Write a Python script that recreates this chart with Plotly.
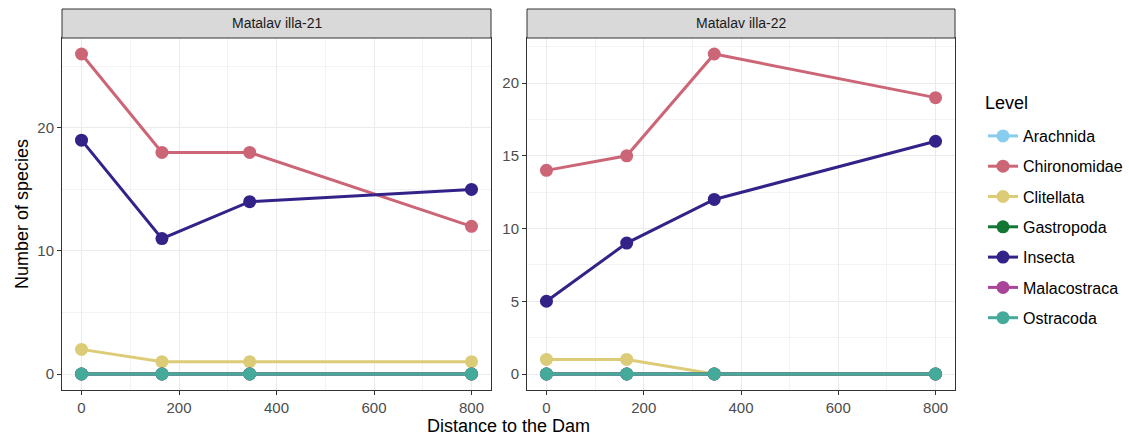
import plotly.graph_objects as go

# Distance of each sampling site from the dam (m)
distance = [0, 165, 345, 800]

levels = ["Arachnida", "Chironomidae", "Clitellata", "Gastropoda",
          "Insecta", "Malacostraca", "Ostracoda"]
colors = ["#88CCEE", "#CC6677", "#DDCC77", "#117733",
          "#332288", "#AA4499", "#44AA99"]

# Species richness per taxonomic level, Matalavilla-21
m21_arachnida = [0, 0, 0, 0]
m21_chironomidae = [26, 18, 18, 12]
m21_clitellata = [2, 1, 1, 1]
m21_gastropoda = [0, 0, 0, 0]
m21_insecta = [19, 11, 14, 15]
m21_malacostraca = [0, 0, 0, 0]
m21_ostracoda = [0, 0, 0, 0]

# Species richness per taxonomic level, Matalavilla-22
m22_arachnida = [0, 0, 0, 0]
m22_chironomidae = [14, 15, 22, 19]
m22_clitellata = [1, 1, 0, 0]
m22_gastropoda = [0, 0, 0, 0]
m22_insecta = [5, 9, 12, 16]
m22_malacostraca = [0, 0, 0, 0]
m22_ostracoda = [0, 0, 0, 0]

panels = [
    ("Matalav illa-21", [m21_arachnida, m21_chironomidae, m21_clitellata, m21_gastropoda,
                         m21_insecta, m21_malacostraca, m21_ostracoda]),
    ("Matalav illa-22", [m22_arachnida, m22_chironomidae, m22_clitellata, m22_gastropoda,
                         m22_insecta, m22_malacostraca, m22_ostracoda]),
]

W, H = 1129, 437
FONT = "Liberation Sans, Arial, sans-serif"

def px_x(p):
    return p / W

def px_y(p):
    return 1 - p / H

x_domains = [(px_x(62), px_x(491)), (px_x(527), px_x(955))]
y_domain = (px_y(390), px_y(38))
strip_top = px_y(9)

fig = go.Figure()

for i, (title, series) in enumerate(panels):
    xa = "x" if i == 0 else "x2"
    ya = "y" if i == 0 else "y2"
    for lvl, col, vals in zip(levels, colors, series):
        fig.add_trace(go.Scatter(
            x=distance, y=vals, mode="lines+markers", name=lvl,
            legendgroup=lvl, showlegend=(i == 0),
            line=dict(color=col, width=3),
            marker=dict(color=col, size=13),
            xaxis=xa, yaxis=ya,
        ))

axis_common = dict(
    showline=True, linecolor="#333333", linewidth=1, mirror=True,
    ticks="outside", ticklen=4, tickcolor="#333333", tickwidth=1,
    tickfont=dict(family=FONT, size=15, color="#4D4D4D"),
    showgrid=True, gridcolor="#EBEBEB", gridwidth=1,
    minor=dict(showgrid=True, gridcolor="#F3F3F3", gridwidth=1),
    zeroline=False,
)

fig.update_layout(
    xaxis=dict(domain=x_domains[0], range=[-40, 840], tickvals=[0, 200, 400, 600, 800],
               minor_dtick=100, minor_tick0=0, anchor="y", **axis_common),
    xaxis2=dict(domain=x_domains[1], range=[-40, 840], tickvals=[0, 200, 400, 600, 800],
                minor_dtick=100, minor_tick0=0, anchor="y2", **axis_common),
    yaxis=dict(domain=y_domain, range=[-1.3, 27.3], tickvals=[0, 10, 20],
               minor_dtick=5, minor_tick0=0, anchor="x", **axis_common),
    yaxis2=dict(domain=y_domain, range=[-1.1, 23.1], tickvals=[0, 5, 10, 15, 20],
                minor_dtick=2.5, minor_tick0=0, anchor="x2", **axis_common),
)

shapes = []
annotations = []
for (title, _), (x0, x1) in zip(panels, x_domains):
    shapes.append(dict(type="rect", xref="paper", yref="paper",
                       x0=x0, x1=x1, y0=y_domain[1], y1=strip_top,
                       fillcolor="#D9D9D9", line=dict(color="#333333", width=1)))
    annotations.append(dict(text=title, xref="paper", yref="paper",
                            x=(x0 + x1) / 2, y=(y_domain[1] + strip_top) / 2,
                            showarrow=False, xanchor="center", yanchor="middle",
                            font=dict(family=FONT, size=14, color="#1A1A1A")))

annotations.append(dict(text="Distance to the Dam", xref="paper", yref="paper",
                        x=(x_domains[0][0] + x_domains[1][1]) / 2, y=px_y(426),
                        showarrow=False, xanchor="center", yanchor="middle",
                        font=dict(family=FONT, size=18, color="#000000")))
annotations.append(dict(text="Number of species", xref="paper", yref="paper",
                        x=px_x(22), y=(y_domain[0] + y_domain[1]) / 2, textangle=-90,
                        showarrow=False, xanchor="center", yanchor="middle",
                        font=dict(family=FONT, size=18, color="#000000")))
# Legend heading
annotations.append(dict(text="Level", xref="paper", yref="paper",
                        x=px_x(983), y=px_y(103), showarrow=False,
                        xanchor="left", yanchor="middle",
                        font=dict(family=FONT, size=18, color="#000000")))

fig.update_layout(
    width=W, height=H,
    margin=dict(l=0, r=0, t=0, b=0),
    paper_bgcolor="white", plot_bgcolor="white",
    shapes=shapes, annotations=annotations,
    legend=dict(
        font=dict(family=FONT, size=16, color="#000000"),
        x=px_x(983), y=px_y(119), xanchor="left", yanchor="top",
        tracegroupgap=6.5, bgcolor="rgba(0,0,0,0)", itemwidth=30,
    ),
)

fig.write_html("out.html")
